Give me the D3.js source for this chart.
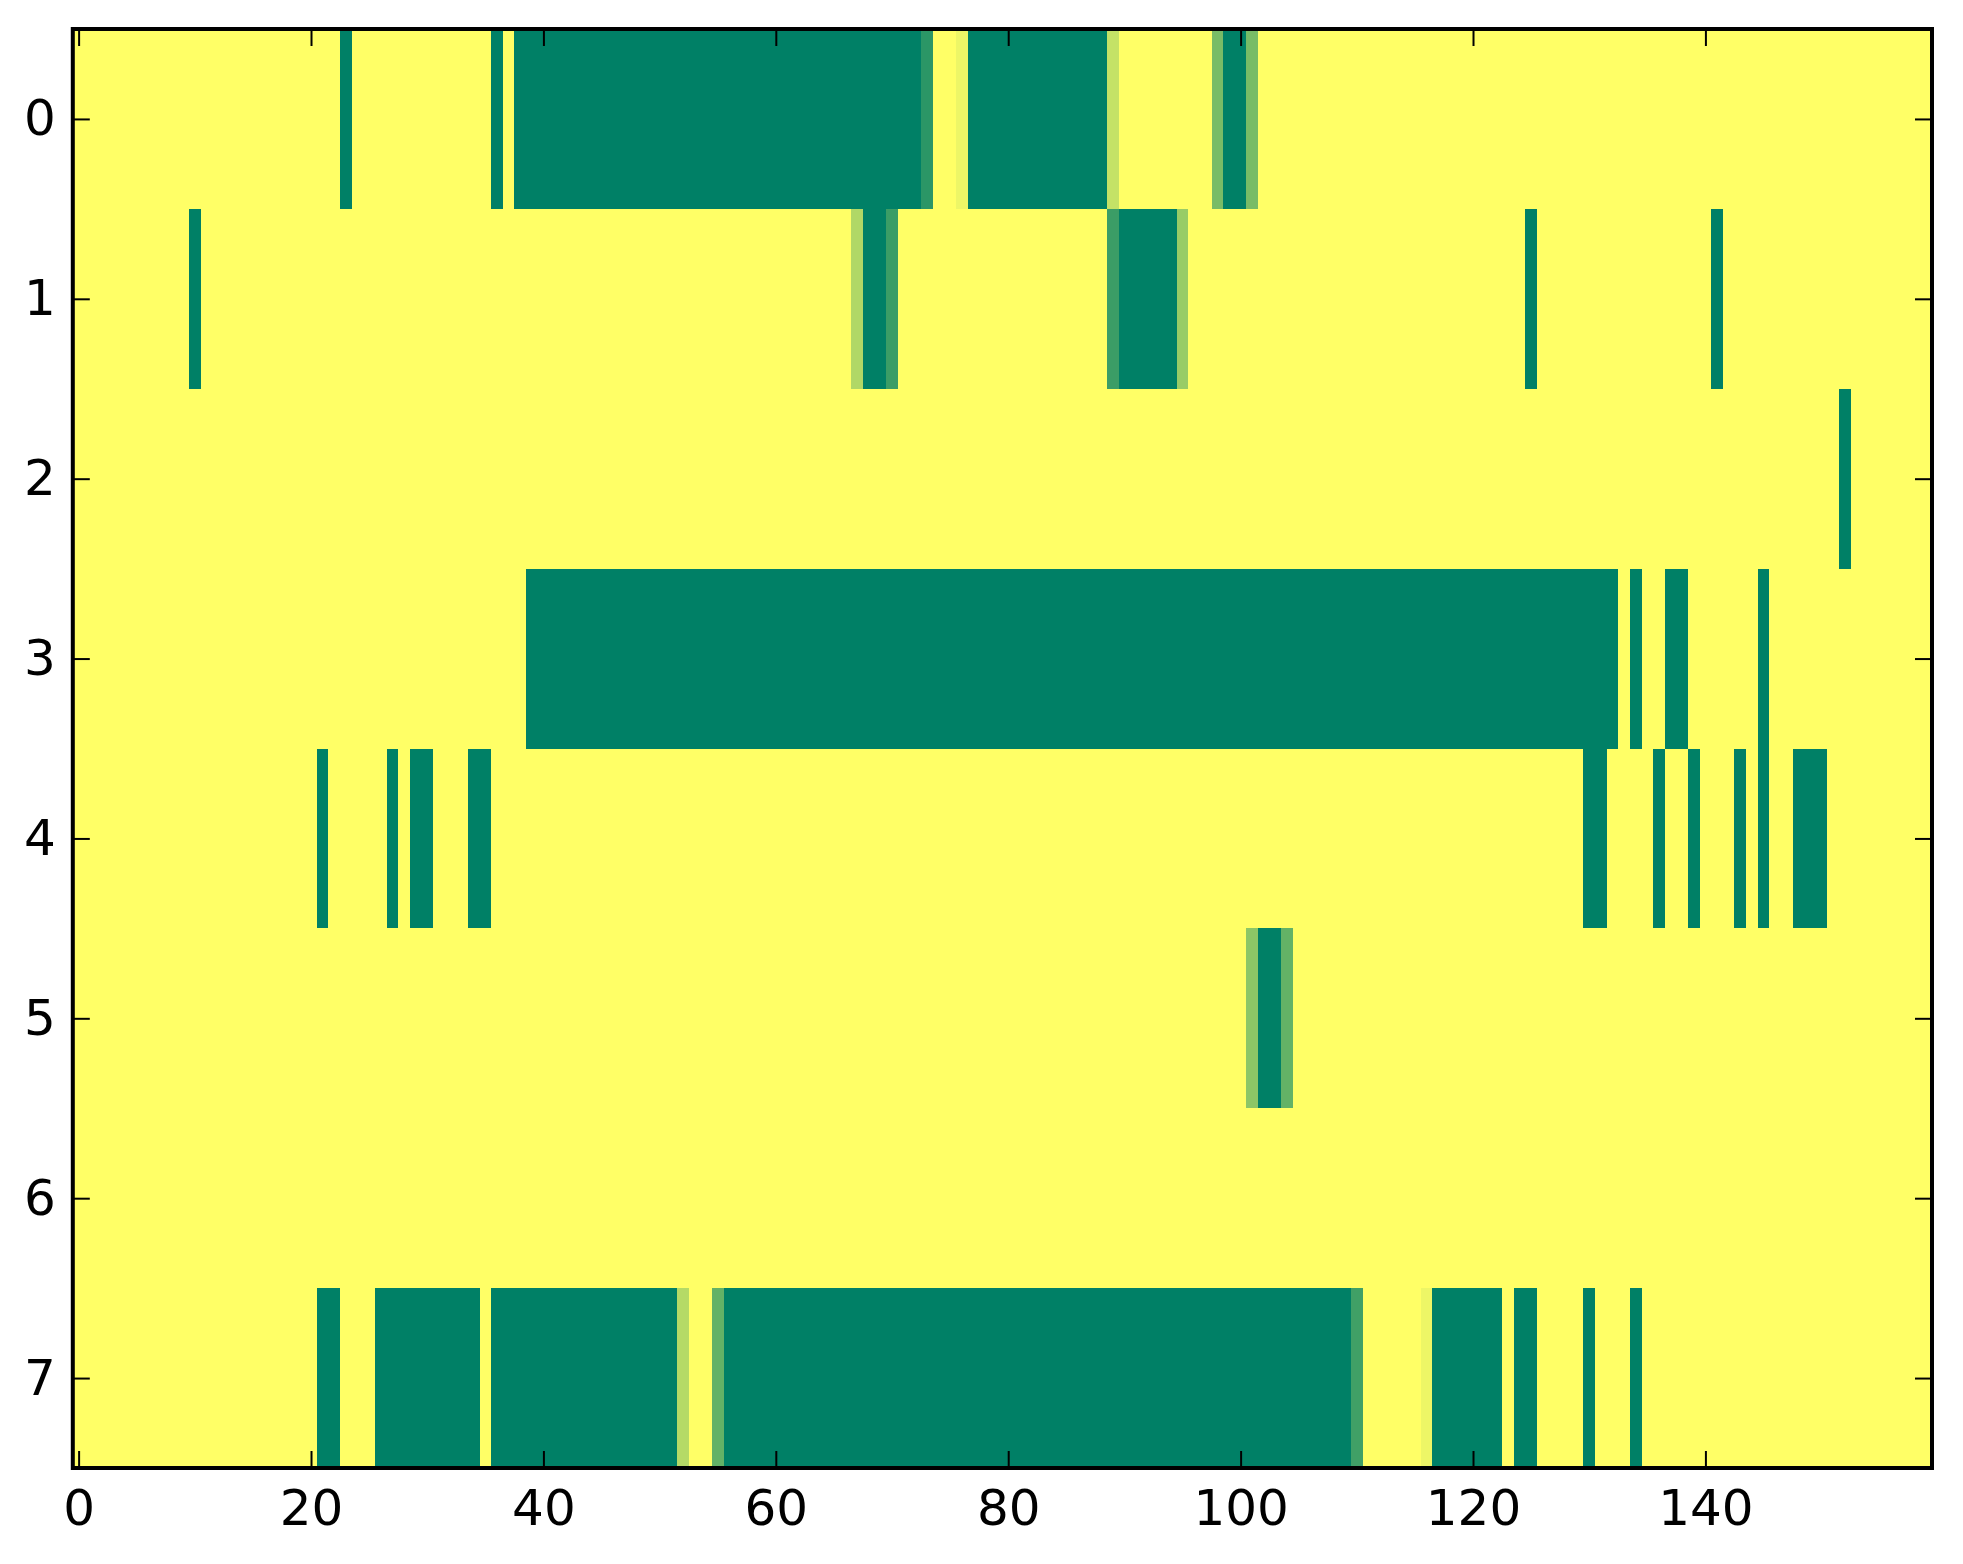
<!DOCTYPE html>
<html>
<head>
<meta charset="utf-8">
<script src="https://cdn.jsdelivr.net/npm/d3@7"></script>
<style>
  body { margin: 0; background: #fff; }
  .tick text { font-family: "DejaVu Sans", sans-serif; font-size: 50px; fill: #000; }
</style>
</head>
<body>
<div id="chart"></div>
<script>
var svgWidth = 1963;
var svgHeight = 1564;

// plot area (pixels)
var plotLeft = 72.8, plotRight = 1932, plotTop = 29, plotBottom = 1468;

var nCols = 160;
var rowIds = [0, 1, 2, 3, 4, 5, 6, 7];
var xTicks = [0, 20, 40, 60, 80, 100, 120, 140];
var yTicks = [0, 1, 2, 3, 4, 5, 6, 7];

// runs per row: [first column, last column, value]; cells not listed are 1
var row0Runs = [[23, 23, 0], [36, 36, 0], [38, 72, 0], [73, 73, 0.17], [76, 76, 0.93], [77, 88, 0],
  [89, 89, 0.77], [98, 98, 0.47], [99, 100, 0], [101, 101, 0.47]];
var row1Runs = [[10, 10, 0], [67, 67, 0.69], [68, 69, 0], [70, 70, 0.23], [89, 89, 0.23], [90, 94, 0],
  [95, 95, 0.6], [125, 125, 0], [141, 141, 0]];
var row2Runs = [[152, 152, 0]];
var row3Runs = [[39, 132, 0], [134, 134, 0], [137, 138, 0], [145, 145, 0]];
var row4Runs = [[21, 21, 0], [27, 27, 0], [29, 30, 0], [34, 35, 0], [130, 131, 0], [136, 136, 0],
  [139, 139, 0], [143, 143, 0], [145, 145, 0], [148, 150, 0]];
var row5Runs = [[101, 101, 0.55], [102, 103, 0], [104, 104, 0.39]];
var row6Runs = [];
var row7Runs = [[21, 22, 0], [26, 34, 0], [36, 51, 0], [52, 52, 0.71], [55, 55, 0.39], [56, 109, 0],
  [110, 110, 0.25], [116, 116, 0.93], [117, 122, 0], [124, 125, 0], [130, 130, 0], [134, 134, 0]];

var allRuns = [row0Runs, row1Runs, row2Runs, row3Runs, row4Runs, row5Runs, row6Runs, row7Runs];

// expand into cells
var cells = [];
rowIds.forEach(function(r) {
  var vals = d3.range(nCols).map(function() { return 1; });
  allRuns[r].forEach(function(run) {
    for (var c = run[0]; c <= run[1]; c++) vals[c] = run[2];
  });
  vals.forEach(function(v, c) { cells.push({ row: r, col: c, value: v }); });
});

var svg = d3.select("#chart")
  .append("svg")
  .attr("width", svgWidth)
  .attr("height", svgHeight);

var x = d3.scaleLinear().domain([-0.5, nCols - 0.5]).range([plotLeft, plotRight]);
var y = d3.scaleLinear().domain([-0.5, rowIds.length - 0.5]).range([plotTop, plotBottom]);

// matplotlib "summer" colormap
var color = d3.scaleLinear().domain([0, 1]).range(["#008066", "#ffff66"]);

svg.append("g")
  .selectAll("rect")
  .data(cells)
  .enter()
  .append("rect")
  .attr("x", d => x(d.col - 0.5))
  .attr("y", d => y(d.row - 0.5))
  .attr("width", x(1) - x(0) + 0.3)
  .attr("height", y(1) - y(0) + 0.3)
  .attr("fill", d => color(d.value))
  .attr("shape-rendering", "crispEdges");

var tickLen = 17;

function styleAxis(g) {
  g.select(".domain").remove();
  g.selectAll(".tick line").attr("stroke", "#000").attr("stroke-width", 2);
}

svg.append("g")
  .attr("transform", `translate(0, ${plotBottom})`)
  .call(d3.axisBottom(x).tickValues(xTicks).tickSize(-tickLen).tickPadding(21).tickFormat(d3.format("d")))
  .call(styleAxis);

svg.append("g")
  .attr("transform", `translate(0, ${plotTop})`)
  .call(d3.axisTop(x).tickValues(xTicks).tickSize(-tickLen).tickFormat(""))
  .call(styleAxis);

svg.append("g")
  .attr("transform", `translate(${plotLeft}, 0)`)
  .call(d3.axisLeft(y).tickValues(yTicks).tickSize(-tickLen).tickPadding(17).tickFormat(d3.format("d")))
  .call(styleAxis);

svg.append("g")
  .attr("transform", `translate(${plotRight}, 0)`)
  .call(d3.axisRight(y).tickValues(yTicks).tickSize(-tickLen).tickFormat(""))
  .call(styleAxis);

svg.selectAll(".tick text").attr("font-family", null).attr("font-size", null);

// frame
svg.append("rect")
  .attr("x", plotLeft)
  .attr("y", plotTop)
  .attr("width", plotRight - plotLeft)
  .attr("height", plotBottom - plotTop)
  .attr("fill", "none")
  .attr("stroke", "#000")
  .attr("stroke-width", 4);
</script>
</body>
</html>
